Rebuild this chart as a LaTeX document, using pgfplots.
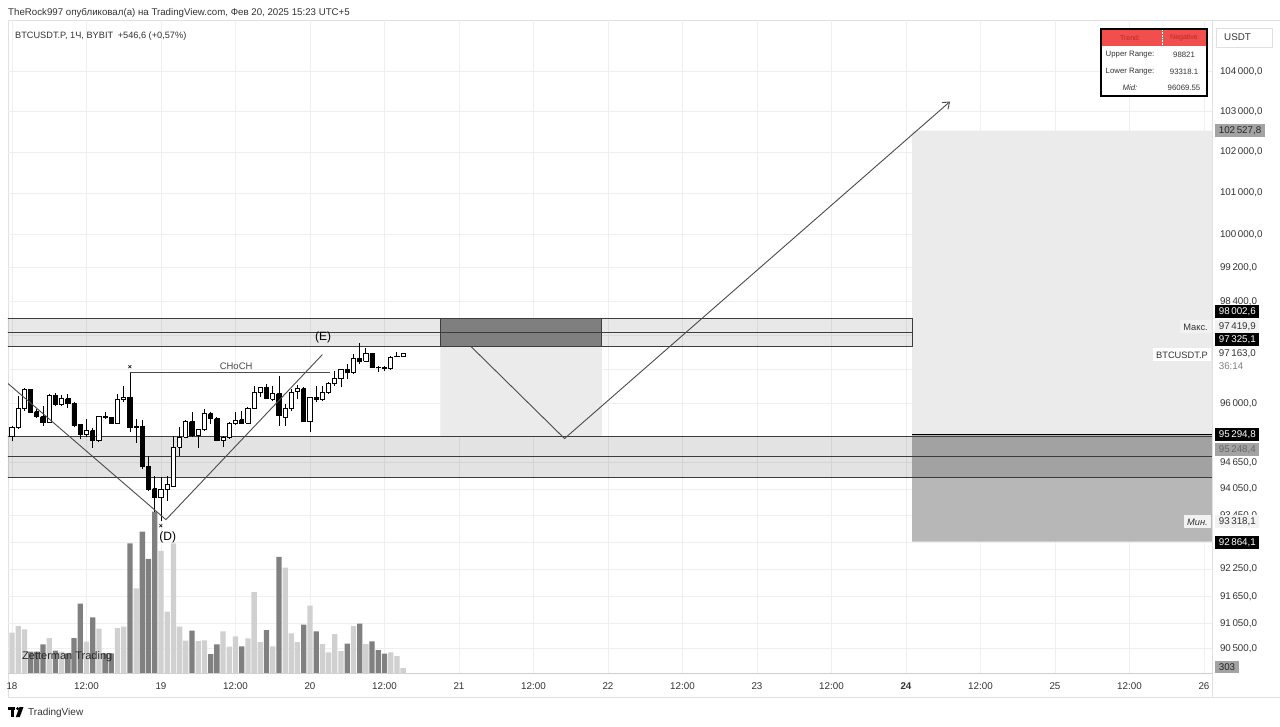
\documentclass[border=0pt]{standalone}
\usepackage{fontspec}
\setmainfont{Liberation Sans}
\usepackage{pgfplots}
\pgfplotsset{compat=1.18}
\usetikzlibrary{arrows.meta}

\definecolor{gridc}{HTML}{EFEFEF}
\definecolor{framec}{HTML}{E0E0E0}
\definecolor{lbl}{HTML}{333333}
\definecolor{boxlight}{HTML}{EBEBEB}
\definecolor{boxdark}{HTML}{B7B7B7}
\definecolor{boxmid}{HTML}{7F7F7F}
\definecolor{zline}{HTML}{3C3C3C}
\definecolor{lnc}{HTML}{4A4A4A}
\definecolor{darkv}{HTML}{808080}
\definecolor{lightv}{HTML}{D0D0D0}
\definecolor{tvred}{HTML}{F24E4E}
\definecolor{tvredtxt}{HTML}{B52A2A}
\definecolor{lblgray}{HTML}{A3A3A3}
\definecolor{verylight}{HTML}{F2F2F2}

\pgfplotsset{
  candlewick/.style={draw=black, line width=0.9pt},
  candlebody/.style={draw=black, line width=0.9pt},
}

% fill, x, open, high, low, close
\newcommand\candle[6]{%
  \pgfmathsetmacro\xl{#2-0.34}%
  \pgfmathsetmacro\xr{#2+0.34}%
  \edef\tmp{%
    \noexpand\addplot[candlewick] coordinates {(#2,#5) (#2,#4)};%
    \noexpand\addplot[candlebody, fill=#1] coordinates {(\xl,#3) (\xr,#3) (\xr,#6) (\xl,#6) (\xl,#3)};%
  }\tmp}
\newcommand\up[5]{\candle{white}{#1}{#2}{#3}{#4}{#5}}
\newcommand\dn[5]{\candle{black}{#1}{#2}{#3}{#4}{#5}}

\tikzset{pl/.style={anchor=west, inner xsep=3.6pt, inner ysep=0pt, minimum height=13pt,
  font=\fontsize{9.8}{11}\selectfont}}

\begin{document}
\begin{tikzpicture}[x=1pt,y=1pt]
% page coordinates: (X,-Y) in pixels from the top-left corner, shifted so the plot's corner is the origin
\begin{scope}[shift={(-8,673)}]
\useasboundingbox (0,0) rectangle (1280,-726);
\fill[white] (0,0) rectangle (1280,-726);
\draw[framec, line width=0.8pt] (8,-20) -- (1280,-20);
\draw[framec, line width=0.8pt] (8,-20) -- (8,-697);
\draw[framec, line width=0.8pt] (1212,-20) -- (1212,-697);
\draw[framec, line width=0.8pt] (8,-697) -- (1280,-697);
\end{scope}

% ---------- axis A: grid and tick labels (price scale is logarithmic: t = 1000 ln(p/100000))
\begin{axis}[anchor=south west, scale only axis,
  width=1204pt, height=653pt, xmin=-0.644, xmax=193.29,
  y filter/.expression={1000*ln(y/100000)},
  ymin=-105.68, ymax=51.62,
  grid=major, grid style={gridc, line width=0.8pt},
  axis line style={draw=none}, major tick length=0pt,
  xtick={0,12,...,192},
  xticklabels={18,12:00,19,12:00,20,12:00,21,12:00,22,12:00,23,12:00,\textbf{24},12:00,25,12:00,26},
  xticklabel style={anchor=base, yshift=-16pt, font=\fontsize{9.8}{11}\selectfont, text=lbl},
  ytick={-99.82,-93.76,-87.19,-80.67,-74.18,-67.74,-61.34,-54.98,-48.67,-40.82,-32.52,-24.29,-16.13,-8.03,0,9.95,19.80,29.56,39.22},
  yticklabels={{90\,500,0},{91\,050,0},{91\,650,0},{92\,250,0},{},{93\,450,0},{94\,050,0},{94\,650,0},{},{96\,000,0},{},{},{98\,400,0},{99\,200,0},{100\,000,0},{101\,000,0},{102\,000,0},{103\,000,0},{104\,000,0}},
  yticklabel pos=right,
  yticklabel style={anchor=west, xshift=4.5pt, font=\fontsize{9.8}{11}\selectfont, text=lbl},
]
\addplot[draw=none] coordinates {(0,95000) (1,95100)};
\end{axis}

% ---------- axis B: volume
\begin{axis}[anchor=south west, scale only axis,
  width=1204pt, height=653pt, xmin=-0.644, xmax=193.29,
  ymin=0, ymax=653, hide axis]
\addplot[ybar, bar width=5.3pt, bar shift=0pt, fill=lightv, draw=none] coordinates {
(0,40.3) (1,47) (2,43.7) (6,35) (8,21.3) (12,31.3) (14,44.3) (17,45) (18,46.3) (20,84.7)
(24,122) (25,61.3) (26,129.7) (27,46.3) (28,32.3) (30,32) (31,32.7) (34,41.7) (35,26.3)
(36,36.7) (38,34.7) (39,81) (40,31) (42,26.7) (44,105.3) (45,39.7) (46,31) (48,67.3)
(50,29) (51,20.7) (52,39) (53,22) (55,47) (57,29) (61,20.7) (62,17) (63,5)};
\addplot[ybar, bar width=5.3pt, bar shift=0pt, fill=darkv, draw=none] coordinates {
(3,21.3) (4,21.3) (5,28.7) (7,22.3) (9,19.7) (10,35) (11,69.3) (13,55.7) (15,19.7) (16,19.7)
(19,129.7) (21,141.3) (22,114) (23,161.3) (29,42.3) (32,19) (33,28.7) (37,26.7) (41,43)
(43,116) (47,48.3) (49,41.7) (54,29.3) (56,49.3) (58,31.7) (59,23) (60,19.3)};
\end{axis}

% ---------- axis C: zones, candles, drawings
\begin{axis}[anchor=south west, scale only axis,
  width=1204pt, height=653pt, xmin=-0.644, xmax=193.29,
  y filter/.expression={1000*ln(y/100000)},
  ymin=-105.68, ymax=51.62, hide axis]
\addplot[fill=boxlight, draw=none] coordinates {(145,95294.8) (195,95294.8) (195,102527.8) (145,102527.8) (145,95294.8)};
\addplot[fill=boxdark, draw=none] coordinates {(145,92864.1) (195,92864.1) (195,95294.8) (145,95294.8) (145,92864.1)};
\addplot[fill=boxlight, draw=none] coordinates {(69,95248.4) (95,95248.4) (95,97325.1) (69,97325.1) (69,95248.4)};
\addplot[fill=black, fill opacity=0.09, draw=zline, line width=0.9pt] coordinates {(-1,97325.1) (145,97325.1) (145,98002.6) (-1,98002.6) (-1,97325.1)};
\addplot[fill=boxmid, draw=zline, line width=0.9pt] coordinates {(69,97325.1) (95,97325.1) (95,98002.6) (69,98002.6) (69,97325.1)};
\addplot[zline, line width=0.9pt] coordinates {(-1,97664) (145,97664)};
\addplot[fill=black, fill opacity=0.11, draw=zline, line width=0.9pt] coordinates {(-1,94320) (195,94320) (195,95248.4) (-1,95248.4) (-1,94320)};
\addplot[zline, line width=0.9pt] coordinates {(-1,94780) (195,94780)};
\addplot[black, line width=1.8pt] coordinates {(145,95294.8) (195,95294.8)};

\up{0}{95245}{95498}{95154}{95459}
\up{1}{95452}{96191}{95429}{95890}
\up{2}{95897}{96369}{95844}{96337}
\dn{3}{96337}{96353}{95782}{95805}
\dn{4}{95814}{95890}{95682}{95705}
\dn{5}{95705}{95959}{95498}{95567}
\up{6}{95567}{96237}{95551}{96191}
\dn{7}{96191}{96244}{95959}{95982}
\up{8}{95982}{96214}{95959}{96121}
\dn{9}{96121}{96230}{95906}{95999}
\dn{10}{95999}{96036}{95459}{95498}
\dn{11}{95521}{95530}{95184}{95291}
\up{12}{95291}{95652}{95245}{95383}
\dn{13}{95383}{95452}{94993}{95154}
\up{14}{95154}{95728}{95115}{95712}
\dn{15}{95705}{95805}{95652}{95682}
\dn{16}{95682}{95705}{95537}{95551}
\up{17}{95551}{96230}{95537}{96105}
\up{18}{96091}{96423}{96036}{96151}
\dn{19}{96151}{96725}{95344}{95459}
\up{20}{95463}{95659}{95108}{95475}
\dn{21}{95475}{95636}{94514}{94560}
\dn{22}{94560}{94810}{94015}{94031}
\dn{23}{94054}{94355}{93540}{93856}
\up{24}{93850}{94316}{93318.1}{94031}
\up{25}{94031}{94355}{93789}{94144}
\up{26}{94105}{95268}{94090}{95000}
\up{27}{95000}{95459}{94810}{95229}
\up{28}{95229}{95629}{95215}{95590}
\dn{29}{95590}{95805}{95229}{95268}
\up{30}{95268}{95429}{94986}{95399}
\up{31}{95399}{95890}{95383}{95768}
\dn{32}{95768}{95805}{95537}{95652}
\dn{33}{95652}{95689}{95138}{95154}
\up{34}{95154}{95268}{95000}{95215}
\up{35}{95215}{95574}{95192}{95551}
\up{36}{95537}{95805}{95521}{95613}
\dn{37}{95629}{95844}{95537}{95551}
\up{38}{95551}{95920}{95537}{95883}
\up{39}{95883}{96423}{95875}{96267}
\up{40}{96267}{96399}{96151}{96369}
\dn{41}{96383}{96469}{96114}{96128}
\up{42}{96114}{96423}{96075}{96230}
\dn{43}{96230}{96655}{95498}{95728}
\up{44}{95689}{95999}{95498}{95883}
\up{45}{95883}{96346}{95844}{96253}
\up{46}{96283}{96439}{96114}{96346}
\dn{47}{96346}{96383}{95574}{95590}
\up{48}{95590}{96151}{95344}{96138}
\dn{49}{96151}{96423}{96036}{96114}
\up{50}{96098}{96423}{96075}{96253}
\up{51}{96253}{96500}{96230}{96476}
\up{52}{96462}{96772}{96423}{96579}
\up{53}{96579}{96818}{96383}{96795}
\dn{54}{96795}{96928}{96579}{96732}
\up{55}{96732}{97162}{96695}{97059}
\dn{56}{97059}{97419.9}{96928}{96982}
\up{57}{96989}{97293}{96966}{97162}
\dn{58}{97162}{97170}{96826}{96835}
\dn{59}{96840}{96888}{96748}{96835}
\dn{60}{96835}{96880}{96772}{96811}
\up{61}{96811}{97122}{96778}{97082}
\up{62}{97100}{97199}{97082}{97105}
\up{63}{97110}{97180}{97100}{97163}

\addplot[lnc, line width=0.9pt] coordinates {(-0.644,96469) (24.8,93360) (50,97146)};
\addplot[lnc, line width=0.8pt] coordinates {(19,96725) (51.2,96725)};
\addplot[lnc, line width=0.9pt, -{Straight Barb[length=6pt,width=9pt]}] coordinates {(74,97325.1) (89,95200) (151.1,103251)};
% text labels (y in the transformed log units)
\node[font=\fontsize{9.5}{11}\selectfont, text=lnc] at (axis cs:36.1,-31.9) {CHoCH};
\node[font=\fontsize{12}{14}\selectfont, text=black] at (axis cs:50.1,-24.8) {(E)};
\node[font=\fontsize{12}{14}\selectfont, text=black] at (axis cs:25.1,-73.1) {(D)};
\node[font=\fontsize{7}{8}\selectfont\bfseries, text=black, inner sep=0pt] at (axis cs:19,-32.11) {×};
\node[font=\fontsize{7}{8}\selectfont\bfseries, text=black, inner sep=0pt] at (axis cs:24,-70.39) {×};
\end{axis}

\begin{scope}[shift={(-8,673)}]
\draw[lightv, line width=0.9pt] (8,-673.5) -- (1212,-673.5);

\node[anchor=base west, inner sep=0pt, font=\fontsize{9.7}{11}\selectfont, text=lbl] at (8,-15.5)
  {TheRock997 опубликовал(а) на TradingView.com, Фев 20, 2025 15:23 UTC+5};
\node[anchor=base west, inner sep=0pt, font=\fontsize{9.2}{11}\selectfont, text=lbl] at (15,-38.5)
  {BTCUSDT.P, 1Ч, BYBIT\enspace +546,6 (+0,57\%)};
\node[anchor=base west, inner sep=0pt, font=\fontsize{11}{13}\selectfont, text=black!85] at (22,-659.5)
  {Zetterman Trading};

\fill[black] (8,-707) rectangle (15.5,-710.2);
\fill[black] (11.2,-707) rectangle (14.4,-717);
\fill[black] (17.6,-708.6) circle (1.6);
\fill[black] (19.5,-707) -- (23.5,-707) -- (19.8,-717) -- (15.8,-717) -- cycle;
\node[anchor=base west, inner sep=0pt, font=\fontsize{10}{12}\selectfont, text=lbl] at (28,-715.5) {TradingView};

\draw[framec, line width=0.8pt] (1216,-28) rectangle (1272,-47);
\node[anchor=base west, inner sep=0pt, font=\fontsize{9.8}{11}\selectfont, text=lbl] at (1224,-41) {USDT};
\node[pl, fill=lblgray, text=black!85] at (1215,-131) {102\,527,8};
\node[pl, fill=black, text=white] at (1215,-312) {98\,002,6};
\node[pl, fill=verylight, text=lbl] at (1215,-327) {97\,419,9};
\node[anchor=east, fill=verylight, inner xsep=3pt, inner ysep=0pt, minimum height=13pt, font=\fontsize{9.3}{11}\selectfont, text=lbl] at (1211,-327) {Макс.};
\node[pl, fill=black, text=white] at (1215,-340) {97\,325,1};
\node[anchor=east, fill=white, inner xsep=3pt, inner ysep=0pt, minimum height=13pt, font=\fontsize{9.3}{11}\selectfont, text=lbl] at (1211,-355) {BTCUSDT.P};
\node[pl, fill=white, text=lbl] at (1215,-354) {97\,163,0};
\node[pl, text=black!50] at (1215,-366) {36:14};
\node[pl, fill=black, text=white] at (1215,-435) {95\,294,8};
\node[pl, fill=lblgray, text=black!60] at (1215,-450) {95\,248,4};
\node[anchor=east, fill=verylight, inner xsep=3pt, inner ysep=0pt, minimum height=13pt, font=\fontsize{9.3}{11}\selectfont\itshape, text=lbl] at (1211,-522) {Мин.};
\node[pl, fill=verylight, text=lbl] at (1215,-522) {93\,318,1};
\node[pl, fill=black, text=white] at (1215,-543) {92\,864,1};
\node[pl, fill=lblgray, text=black!85, minimum height=12pt] at (1215,-667) {303};

\draw[line width=2pt, fill=white] (1101,-29) rectangle (1207,-96);
\fill[tvred] (1102,-30) rectangle (1206,-46);
\draw[white, densely dotted, line width=0.6pt] (1162,-30) -- (1162,-46);
\node[font=\fontsize{7}{8}\selectfont, text=tvredtxt] at (1130,-38) {Trend:};
\node[font=\fontsize{7}{8}\selectfont, text=tvredtxt] at (1184,-38) {Negative};
\node[font=\fontsize{7.8}{9}\selectfont, text=lbl] at (1130,-55) {Upper Range:};
\node[font=\fontsize{7.8}{9}\selectfont, text=lbl] at (1184,-55) {98821};
\node[font=\fontsize{7.8}{9}\selectfont, text=lbl] at (1130,-71.5) {Lower Range:};
\node[font=\fontsize{7.8}{9}\selectfont, text=lbl] at (1184,-71.5) {93318.1};
\node[font=\fontsize{7.8}{9}\selectfont\itshape, text=lbl] at (1130,-88) {Mid:};
\node[font=\fontsize{7.8}{9}\selectfont, text=lbl] at (1184,-88) {96069.55};
\end{scope}
\end{tikzpicture}
\end{document}
